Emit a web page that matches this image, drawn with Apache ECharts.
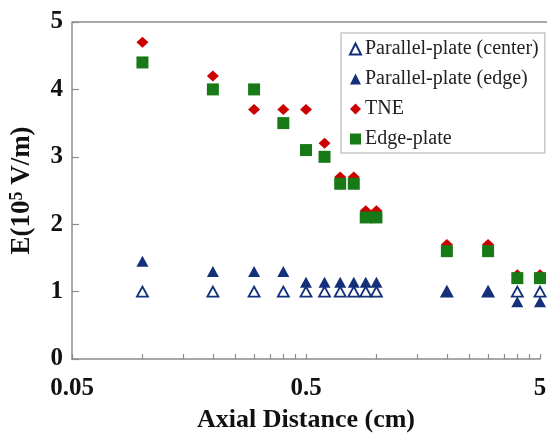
<!DOCTYPE html>
<html>
<head>
<meta charset="utf-8">
<script src="https://cdn.jsdelivr.net/npm/echarts@6/dist/echarts.min.js"></script>
<style>html,body{margin:0;padding:0;background:#fff}#c{width:547px;height:433px}</style>
</head>
<body>
<div id="c"></div>
<script>
const xValues = [0.1, 0.2, 0.3, 0.4, 0.5, 0.6, 0.7, 0.8, 0.9, 1, 2, 3, 4, 5];
const centerVals = [1, 1, 1, 1, 1, 1, 1, 1, 1, 1, 1, 1, 1, 1];
const edgeVals = [1.45, 1.3, 1.3, 1.3, 1.14, 1.14, 1.14, 1.14, 1.14, 1.14, 1.0, 1.0, 0.85, 0.85];
const tneVals = [4.7, 4.2, 3.7, 3.7, 3.7, 3.2, 2.7, 2.7, 2.2, 2.2, 1.7, 1.7, 1.25, 1.25];
const edgePlateVals = [4.4, 4.0, 4.0, 3.5, 3.1, 3.0, 2.6, 2.6, 2.1, 2.1, 1.6, 1.6, 1.2, 1.2];
const xLabelValues = [0.05, 0.5, 5];
const xTickValues = [0.05, 0.1, 0.15, 0.2, 0.25, 0.3, 0.35, 0.4, 0.45, 0.5, 1, 1.5, 2, 2.5, 3, 3.5, 4, 4.5, 5];
const seriesNames = ['Parallel-plate (center)', 'Parallel-plate (edge)', 'TNE', 'Edge-plate'];

const FONT = '"Liberation Serif", "Times New Roman", serif';
const NAVY = '#14307a';
const pairs = vals => xValues.map((x, i) => [x, vals[i]]);

const chart = echarts.init(document.getElementById('c'), null, {renderer: 'canvas'});
chart.setOption({
  animation: false,
  backgroundColor: '#fff',
  grid: {left: 72, right: 7, top: 22, bottom: 74, containLabel: false, outerBoundsMode: 'none'},
  graphic: [{
    type: 'line', silent: true, z: 1,
    shape: {x1: 72, y1: 22, x2: 547, y2: 22},
    style: {stroke: '#8c8c8c', lineWidth: 1.5}
  }],
  legend: {
    orient: 'vertical',
    left: 341, top: 33,
    padding: [6, 6, 4, 8],
    itemGap: 10,
    itemWidth: 11, itemHeight: 11,
    borderColor: '#c8c8c8', borderWidth: 1.5,
    backgroundColor: '#fff',
    textStyle: {fontFamily: FONT, fontSize: 20, color: '#222', lineHeight: 20, padding: [0, 0, 0, -1]},
    data: seriesNames
  },
  xAxis: {
    type: 'log', logBase: 10, min: 0.05, max: 5,
    name: 'Axial Distance (cm)', nameLocation: 'middle', nameGap: 48,
    nameTextStyle: {fontFamily: FONT, fontSize: 26, fontWeight: 'bold', color: '#111'},
    axisLine: {show: true, lineStyle: {color: '#8c8c8c', width: 1.5}},
    axisTick: {show: true, inside: true, length: 5, customValues: xTickValues, lineStyle: {color: '#8c8c8c', width: 1.2}},
    minorTick: {show: false},
    splitLine: {show: false},
    axisLabel: {
      customValues: xLabelValues, margin: 17,
      fontFamily: FONT, fontSize: 25, fontWeight: 'bold', color: '#111',
      formatter: v => String(parseFloat(Number(v).toPrecision(3)))
    }
  },
  yAxis: {
    type: 'value', min: 0, max: 5, interval: 1,
    name: 'E(10{s|5} V/m)', nameLocation: 'middle', nameGap: 36,
    nameTextStyle: {
      fontFamily: FONT, fontSize: 27, fontWeight: 'bold', color: '#111',
      rich: {s: {fontFamily: FONT, fontSize: 18, fontWeight: 'bold', color: '#111', verticalAlign: 'top', padding: [0, 0, 10, 0]}}
    },
    axisLine: {show: true, lineStyle: {color: '#8c8c8c', width: 1.5}},
    axisTick: {show: true, inside: true, length: 7, lineStyle: {color: '#8c8c8c', width: 1.2}},
    splitLine: {show: false},
    axisLabel: {margin: 9, fontFamily: FONT, fontSize: 25, fontWeight: 'bold', color: '#111'}
  },
  series: [
    {
      name: seriesNames[0], type: 'scatter', clip: false,
      symbol: 'triangle', symbolSize: [11, 10],
      itemStyle: {color: '#fff', borderColor: NAVY, borderWidth: 1.8, opacity: 1},
      data: pairs(centerVals)
    },
    {
      name: seriesNames[1], type: 'scatter', clip: false,
      symbol: 'triangle', symbolSize: [12, 11],
      itemStyle: {color: NAVY, opacity: 1},
      data: pairs(edgeVals)
    },
    {
      name: seriesNames[2], type: 'scatter', clip: false,
      symbol: 'diamond', symbolSize: [12, 11],
      itemStyle: {color: '#cc0000', opacity: 1},
      data: pairs(tneVals)
    },
    {
      name: seriesNames[3], type: 'scatter', clip: false,
      symbol: 'rect', symbolSize: 12,
      itemStyle: {color: '#177a17', opacity: 1},
      data: pairs(edgePlateVals)
    }
  ]
});
</script>
</body>
</html>
